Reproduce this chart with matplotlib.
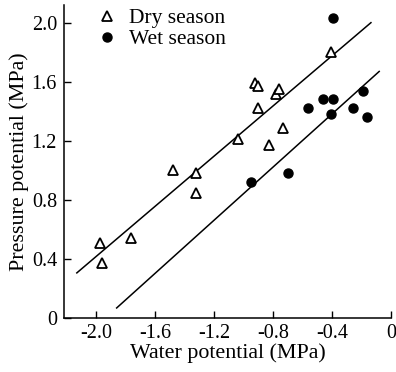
import matplotlib
matplotlib.use("Agg")
import matplotlib.pyplot as plt
import numpy as np

plt.rcParams['font.family'] = ['Liberation Serif', 'DejaVu Serif']

# Dry season (triangles)
dry_x = [-1.97, -1.96, -1.76, -1.48, -1.32, -1.32, -1.04, -0.92, -0.90, -0.90,
         -0.78, -0.76, -0.83, -0.73, -0.41]
dry_y = [0.51, 0.37, 0.54, 1.00, 0.98, 0.85, 1.21, 1.59, 1.57, 1.42,
         1.52, 1.55, 1.17, 1.29, 1.80]
# Wet season (filled circles)
wet_x = [-0.39, -0.56, -0.46, -0.39, -0.41, -0.26, -0.19, -0.16, -0.70, -0.95]
wet_y = [2.03, 1.42, 1.48, 1.48, 1.38, 1.42, 1.54, 1.36, 0.98, 0.92]

# Regression lines: [x_start, x_end], slope, intercept
dry_line_x = [-2.13, -0.136]
dry_slope, dry_icpt = 0.85, 2.116
wet_line_x = [-1.86, -0.08]
wet_slope, wet_icpt = 0.90, 1.742

xticks = [-2.0, -1.6, -1.2, -0.8, -0.4, 0.0]
xticklabels = ["-2.0", "-1.6", "-1.2", "-0.8", "-0.4", "0"]
yticks = [0.0, 0.4, 0.8, 1.2, 1.6, 2.0]
yticklabels = ["0", "0.4", "0.8", "1.2", "1.6", "2.0"]

fig = plt.figure(figsize=(3.96, 3.72), dpi=100)
ax = fig.add_axes([64/396, 54/372, 327/396, 313/372])

for xs, m, b in [(dry_line_x, dry_slope, dry_icpt), (wet_line_x, wet_slope, wet_icpt)]:
    xs = np.array(xs)
    ax.plot(xs, m * xs + b, color='black', lw=1.1)

ax.plot(dry_x, dry_y, linestyle='none', marker='^', markersize=6.5,
        markerfacecolor='white', markeredgecolor='black', markeredgewidth=1.3,
        label='Dry season', zorder=3)
ax.plot(wet_x, wet_y, linestyle='none', marker='o', markersize=6.5,
        color='black', label='Wet season', zorder=3)

ax.set_xlim(-2.217, 0.0)
ax.set_ylim(0, 2.12)
ax.set_xticks(xticks)
ax.set_xticklabels(xticklabels)
ax.set_yticks(yticks)
ax.set_yticklabels(yticklabels)
ax.tick_params(direction='in', length=5, width=1, labelsize=14.5)
ax.tick_params(axis='x', pad=4.5)
ax.tick_params(axis='y', pad=5)
ax.spines['top'].set_visible(False)
ax.spines['right'].set_visible(False)
for s in ['left', 'bottom']:
    ax.spines[s].set_linewidth(1.1)

ax.set_xlabel('Water potential (MPa)', fontsize=15.8, labelpad=0)
ax.set_ylabel('Pressure potential (MPa)', fontsize=15.8, labelpad=2)

leg = ax.legend(loc='upper left', bbox_to_anchor=(0.115, 0.99), frameon=False,
                fontsize=15.5, handlelength=0.5, handletextpad=0.75,
                labelspacing=0.05, borderaxespad=0, borderpad=0)

fig.savefig('out.png', dpi=100)
